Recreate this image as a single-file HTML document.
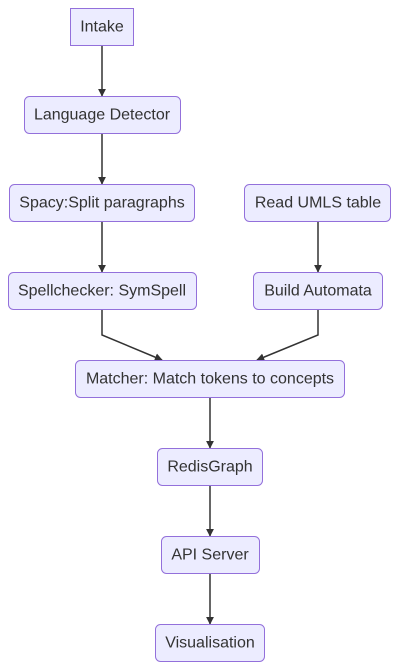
<!DOCTYPE html>
<html><head><meta charset="utf-8"><style>
html,body{margin:0;padding:0;background:#fff;}
svg{display:block;}
text{font-family:"Liberation Sans",sans-serif;font-size:16px;fill:#333;text-anchor:middle;dominant-baseline:central;}
rect{fill:#ECECFF;stroke:#9370DB;stroke-width:1;}
path{fill:none;stroke:#333;stroke-width:1.5;}
</style></head><body>
<svg width="400" height="670" viewBox="0 0 400 670" xmlns="http://www.w3.org/2000/svg">
<defs><marker id="a" viewBox="0 0 10 10" refX="9" refY="5" markerWidth="8" markerHeight="8" markerUnits="userSpaceOnUse" orient="auto"><path d="M0,0L10,5L0,10z" style="fill:#333;stroke:none"/></marker></defs>
<path d="M102,45V96" marker-end="url(#a)"/>
<path d="M102,133V184" marker-end="url(#a)"/>
<path d="M102,221V272" marker-end="url(#a)"/>
<path d="M318,221V272" marker-end="url(#a)"/>
<path d="M102,309V335L162,360" marker-end="url(#a)"/>
<path d="M318,309V335L257,360" marker-end="url(#a)"/>
<path d="M210,397V448" marker-end="url(#a)"/>
<path d="M210,485V536" marker-end="url(#a)"/>
<path d="M210,573V624" marker-end="url(#a)"/>
<rect x="70.5" y="8.5" width="63" height="37"/><text x="102" y="27">Intake</text>
<rect x="24.5" y="96.5" width="156" height="37" rx="5"/><text x="102" y="115">Language Detector</text>
<rect x="9.5" y="184.5" width="185" height="37" rx="5"/><text x="102" y="203">Spacy:Split paragraphs</text>
<rect x="244.5" y="184.5" width="146" height="37" rx="5"/><text x="318" y="203">Read UMLS table</text>
<rect x="8.5" y="272.5" width="188" height="37" rx="5"/><text x="102" y="291">Spellchecker: SymSpell</text>
<rect x="253.5" y="272.5" width="129" height="37" rx="5"/><text x="318" y="291">Build Automata</text>
<rect x="75.5" y="360.5" width="269" height="37" rx="5"/><text x="210" y="379">Matcher: Match tokens to concepts</text>
<rect x="157.5" y="448.5" width="105" height="37" rx="5"/><text x="210" y="467">RedisGraph</text>
<rect x="161.5" y="536.5" width="98" height="37" rx="5"/><text x="210" y="555">API Server</text>
<rect x="155.5" y="624.5" width="109" height="37" rx="5"/><text x="210" y="643">Visualisation</text>
</svg>
</body></html>
